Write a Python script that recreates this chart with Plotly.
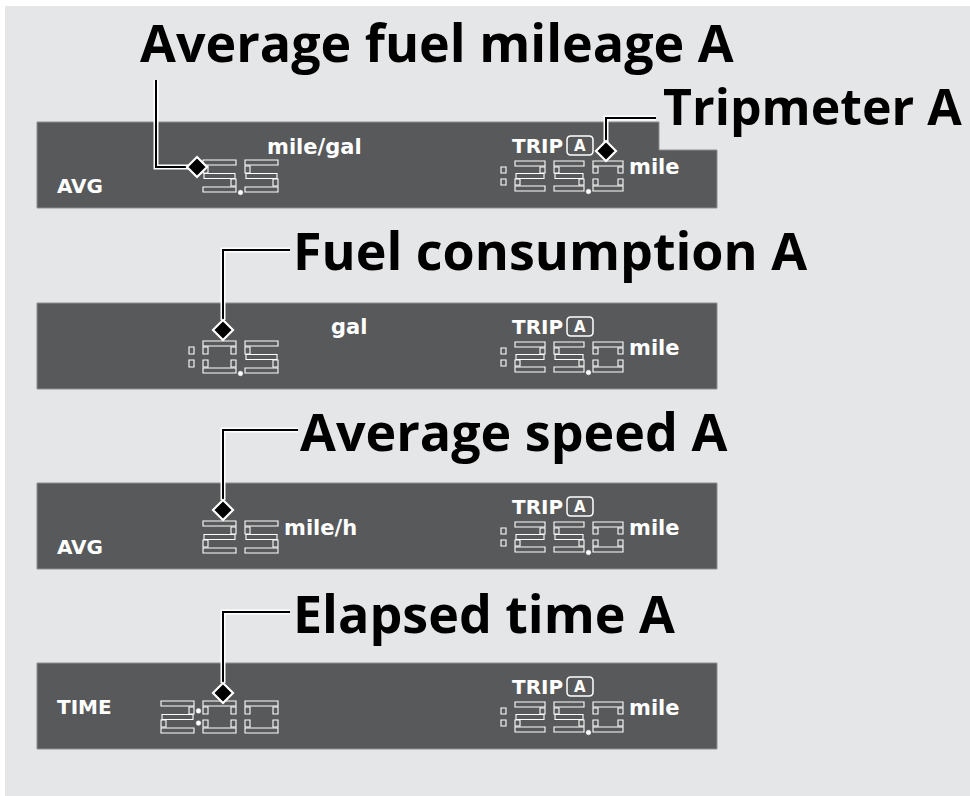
import plotly.graph_objects as go

# ---------------- data (text / readings shown in the diagram) ----------------
titles = ["Average fuel mileage A", "Tripmeter A", "Fuel consumption A",
          "Average speed A", "Elapsed time A"]
mode_labels = ["AVG", "", "AVG", "TIME"]
readings = ["5.5", "10.5", "25", "2:00"]
units = ["mile/gal", "gal", "mile/h", ""]
trip_readings = ["125.0", "125.0", "125.0", "125.0"]
trip_label = "TRIP"
trip_id = "A"
trip_unit = "mile"

# ---------------- layout constants ----------------
W, H = 970, 796
PANEL = "#e5e6e8"
BAR = "#58595b"
BAR_EDGE = "#8e8f91"
BAR_X0, BAR_X1 = 37, 717
BAR_TOPS = [122, 303, 483, 663]
BAR_H = 86

TITLE_POS = [(139, 41), (662, 106), (292, 249), (299, 430), (292, 612)]
TITLE_SIZES = [52, 50, 52, 52, 52]
TITLE_FAMILY = "Open Sans, DejaVu Sans, sans-serif"
DISP_FONT = "DejaVu Sans, Liberation Sans, sans-serif"

UNIT_POS = [(266, 33), (330, 32), (283, 53), None]  # x, baseline offset from bar top

SEG_MAP = {'0': 'abcdef', '1': 'bc', '2': 'abged', '3': 'abgcd', '4': 'fgbc',
           '5': 'afgcd', '6': 'afgedc', '7': 'abc', '8': 'abcdefg', '9': 'abcdfg'}

shapes = []
annotations = []


def rect(x0, y0, x1, y1, fill, line_color, lw):
    shapes.append(dict(type="rect", xref="x", yref="y", x0=x0, y0=y0, x1=x1, y1=y1,
                       fillcolor=fill, line=dict(color=line_color, width=lw),
                       layer="above"))


def path(d, fill=None, line_color="black", lw=1):
    s = dict(type="path", xref="x", yref="y", path=d,
             line=dict(color=line_color, width=lw), layer="above")
    if fill:
        s["fillcolor"] = fill
    shapes.append(s)


def dot(cx, cy, r=2.3):
    shapes.append(dict(type="circle", xref="x", yref="y", x0=cx - r, x1=cx + r,
                       y0=cy - r, y1=cy + r, fillcolor="white",
                       line=dict(color="white", width=0.5), layer="above"))


def digit(x0, y0, w, h, ch, t=5):
    mid = h / 2
    vt = (y0 + t + 1, y0 + mid - t / 2 - 0.5)
    vb = (y0 + mid + t / 2 + 0.5, y0 + h - t - 1)
    for s in SEG_MAP[ch]:
        if s == 'a':
            r = (x0, y0, x0 + w, y0 + t)
        elif s == 'd':
            r = (x0, y0 + h - t, x0 + w, y0 + h)
        elif s == 'g':
            r = (x0 + 1, y0 + mid - t / 2, x0 + w - 1, y0 + mid + t / 2)
        elif s == 'f':
            r = (x0, vt[0], x0 + t, vt[1])
        elif s == 'b':
            r = (x0 + w - t, vt[0], x0 + w, vt[1])
        elif s == 'e':
            r = (x0, vb[0], x0 + t, vb[1])
        else:  # c
            r = (x0 + w - t, vb[0], x0 + w, vb[1])
        rect(*r, fill=BAR, line_color="white", lw=1.1)


def number(text, right_x, top, w, h, pitch):
    slot = 0
    for ch in reversed(text):
        if ch.isdigit():
            x0 = right_x - w - slot * pitch
            digit(x0, top, w, h, ch)
            slot += 1
        else:
            gx = right_x - w - (slot - 1) * pitch - (pitch - w) / 2
            if ch == '.':
                dot(gx, top + h + 0.5)
            elif ch == ':':
                dot(gx, top + h * 0.31)
                dot(gx, top + h * 0.69)


def text(x, y, s, size, color="white", family=DISP_FONT, xanchor="left", bold=True):
    annotations.append(dict(x=x, y=y, xref="x", yref="y", text=f"<b>{s}</b>" if bold else s,
                            showarrow=False, xanchor=xanchor, yanchor="middle",
                            font=dict(family=family, size=size, color=color),
                            borderpad=0))


def leader(points, diamond_c, half=10):
    d = "M " + " L ".join(f"{x},{y}" for x, y in points)
    path(d, line_color="white", lw=5)
    path(d, line_color="black", lw=2)
    cx, cy = diamond_c
    dd = f"M {cx},{cy - half} L {cx + half},{cy} L {cx},{cy + half} L {cx - half},{cy} Z"
    path(dd, fill="black", line_color="white", lw=2.2)


# panel background
rect(5, 6, W + 2, H + 2, PANEL, PANEL, 0)

# display bars
for i, top in enumerate(BAR_TOPS):
    if i == 0:
        d = (f"M {BAR_X0},{top} L 659,{top} L 659,150 L {BAR_X1},150 "
             f"L {BAR_X1},{top + BAR_H} L {BAR_X0},{top + BAR_H} Z")
        path(d, fill=BAR, line_color=BAR_EDGE, lw=1)
    else:
        rect(BAR_X0, top, BAR_X1, top + BAR_H, BAR, BAR_EDGE, 1)

# bar contents
for i, top in enumerate(BAR_TOPS):
    # main reading
    number(readings[i], 278, top + 38, 33, 32, 42)
    # trip reading
    number(trip_readings[i], 623, top + 39, 30, 30, 39)
    # TRIP label and boxed A
    text(511, top + 31 - 7.3, trip_label, 20)
    bx0, bx1, by0, by1, rr = 567, 593, top + 14, top + 33, 4
    path(f"M {bx0 + rr},{by0} L {bx1 - rr},{by0} Q {bx1},{by0} {bx1},{by0 + rr} "
         f"L {bx1},{by1 - rr} Q {bx1},{by1} {bx1 - rr},{by1} L {bx0 + rr},{by1} "
         f"Q {bx0},{by1} {bx0},{by1 - rr} L {bx0},{by0 + rr} Q {bx0},{by0} {bx0 + rr},{by0} Z",
         line_color="white", lw=1.5)
    text(580, top + 24, trip_id, 15, xanchor="center")
    # trip unit
    text(628, top + 53 - 7.6, trip_unit, 21)
    # mode label
    if mode_labels[i]:
        base = top + 71 if mode_labels[i] == "AVG" else top + 51
        text(56, base - 7.3, mode_labels[i], 20)
    # unit
    if units[i]:
        ux, uoff = UNIT_POS[i]
        text(ux, top + uoff - 7.6, units[i], 21)

# leader lines
leader([(656, 118), (606, 118), (606, 142)], (606, 151))
leader([(156, 80), (156, 167), (188, 167)], (197, 167))
leader([(290, 250), (223, 250), (223, 320)], (223, 330))
leader([(298, 430), (223, 430), (223, 500)], (223, 510))
leader([(290, 612), (223, 612), (223, 683)], (223, 693))

# titles
for t, (x, y), sz in zip(titles, TITLE_POS, TITLE_SIZES):
    text(x, y, t, sz, color="black", family=TITLE_FAMILY)

fig = go.Figure()
fig.add_trace(go.Scatter(x=[0, W], y=[0, H], mode="markers",
                         marker=dict(opacity=0), hoverinfo="skip", showlegend=False))
fig.update_layout(
    width=W, height=H,
    margin=dict(l=0, r=0, t=0, b=0),
    paper_bgcolor="white", plot_bgcolor="white",
    xaxis=dict(range=[0, W], visible=False, fixedrange=True),
    yaxis=dict(range=[H, 0], visible=False, fixedrange=True),
    shapes=shapes, annotations=annotations, showlegend=False,
)
fig.write_html("out.html", config={"displayModeBar": False},
               post_script="document.body.style.margin='0';document.body.style.overflow='hidden';")
